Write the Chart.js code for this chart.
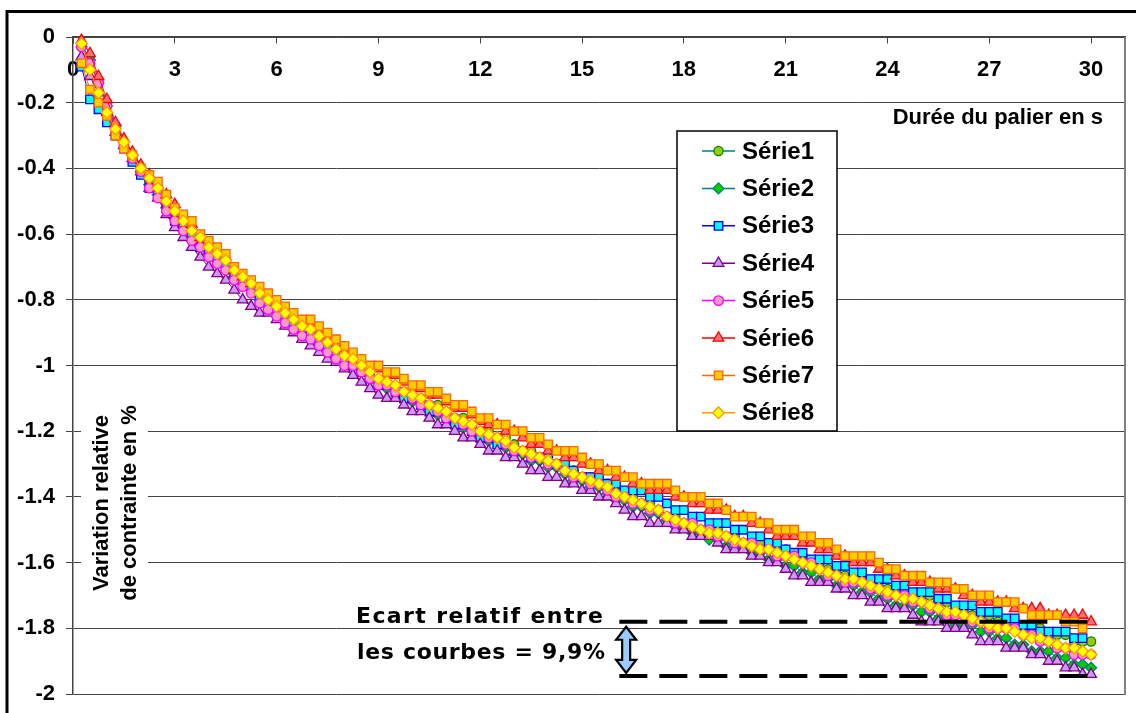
<!DOCTYPE html>
<html>
<head>
<meta charset="utf-8">
<script src="https://cdn.jsdelivr.net/npm/chart.js@4.4.0/dist/chart.umd.min.js"></script>
<style>
html,body{margin:0;padding:0;background:#fff;}
#wrap{position:relative;width:1136px;height:713px;}
canvas{display:block;}
</style>
</head>
<body>
<div id="wrap"><canvas id="c" width="1136" height="713"></canvas></div>
<script>
// ---- data ----
const timeS = [0.25,0.5,0.75,1,1.25,1.5,1.75,2,2.25,2.5,2.75,3,3.25,3.5,3.75,4,4.25,4.5,4.75,5,5.25,5.5,5.75,6,6.25,6.5,6.75,7,7.25,7.5,7.75,8,8.25,8.5,8.75,9,9.25,9.5,9.75,10,10.25,10.5,10.75,11,11.25,11.5,11.75,12,12.25,12.5,12.75,13,13.25,13.5,13.75,14,14.25,14.5,14.75,15,15.25,15.5,15.75,16,16.25,16.5,16.75,17,17.25,17.5,17.75,18,18.25,18.5,18.75,19,19.25,19.5,19.75,20,20.25,20.5,20.75,21,21.25,21.5,21.75,22,22.25,22.5,22.75,23,23.25,23.5,23.75,24,24.25,24.5,24.75,25,25.25,25.5,25.75,26,26.25,26.5,26.75,27,27.25,27.5,27.75,28,28.25,28.5,28.75,29,29.25,29.5,29.75,30];

const serie1 = [-0.03,-0.06,-0.13,-0.20,-0.27,-0.32,-0.36,-0.41,
-0.44,-0.47,-0.51,-0.54,-0.57,-0.60,-0.62,-0.65,-0.67,-0.69,-0.72,-0.74,-0.76,-0.79,-0.81,-0.83,-0.85,-0.87,-0.89,-0.90,-0.92,-0.94,-0.96,-0.98,-0.99,-1.01,-1.03,-1.05,-1.06,-1.07,-1.09,-1.10,
-1.10,-1.12,-1.12,-1.14,-1.16,-1.16,-1.18,-1.20,-1.20,-1.22,-1.22,-1.24,-1.26,-1.26,-1.28,-1.28,-1.30,-1.32,-1.32,-1.34,-1.34,-1.36,-1.36,-1.38,-1.40,-1.40,-1.42,-1.42,-1.44,-1.46,-1.46,-1.48,-1.48,-1.50,-1.50,-1.50,-1.52,-1.52,-1.54,-1.54,
-1.54,-1.56,-1.56,-1.56,-1.58,-1.58,-1.60,-1.60,-1.62,-1.62,-1.64,-1.64,-1.64,-1.66,-1.66,-1.68,
-1.68,-1.68,-1.70,-1.70,-1.70,-1.72,-1.72,-1.74,-1.74,-1.76,-1.76,-1.76,
-1.78,-1.78,-1.78,-1.80,-1.80,-1.80,-1.82,-1.82,-1.82,-1.84,-1.84,-1.84];

const serie2 = [-0.03,-0.07,-0.14,-0.21,-0.27,-0.32,-0.36,-0.41,
-0.45,-0.48,-0.52,-0.55,-0.58,-0.61,-0.63,-0.66,-0.68,-0.70,-0.73,-0.75,-0.77,-0.80,-0.82,-0.84,-0.86,-0.88,-0.90,-0.91,-0.93,-0.95,-0.97,-0.99,-1.00,-1.02,-1.04,-1.06,
-1.07,-1.07,-1.09,-1.11,-1.11,-1.13,-1.15,-1.15,-1.17,-1.19,-1.19,-1.21,
-1.23,-1.23,-1.25,-1.27,-1.27,-1.29,-1.29,-1.31,-1.31,-1.33,-1.35,-1.35,
-1.37,-1.37,-1.39,-1.41,-1.41,-1.43,-1.43,-1.45,-1.45,-1.47,-1.49,-1.49,
-1.51,-1.51,-1.53,-1.53,-1.55,-1.55,-1.55,-1.57,-1.57,-1.59,-1.59,-1.61,
-1.61,-1.63,-1.63,-1.65,-1.65,-1.67,-1.67,-1.67,-1.69,-1.69,-1.71,-1.71,
-1.73,-1.73,-1.73,-1.75,-1.75,-1.77,-1.77,-1.79,-1.79,-1.79,-1.81,-1.81,
-1.83,-1.83,-1.85,-1.85,-1.87,-1.87,-1.87,-1.89,-1.89,-1.91,-1.91,-1.92];

const serie3 = [-0.09,-0.19,-0.22,-0.26,-0.30,-0.34,-0.38,-0.42,
-0.46,-0.48,-0.52,-0.56,-0.58,-0.60,-0.64,-0.66,-0.68,-0.70,-0.72,-0.74,-0.76,-0.80,-0.82,-0.84,-0.86,-0.88,-0.90,-0.90,-0.92,-0.94,-0.96,-0.98,-1.00,-1.02,-1.04,-1.06,
-1.06,-1.08,-1.10,-1.10,-1.12,-1.14,-1.14,-1.16,-1.18,-1.18,-1.20,-1.22,
-1.22,-1.24,-1.24,-1.26,-1.26,-1.28,-1.28,-1.28,-1.30,-1.30,-1.32,-1.34,
-1.34,-1.34,-1.36,-1.36,-1.38,-1.38,-1.38,-1.40,-1.40,-1.42,-1.44,-1.44,
-1.46,-1.46,-1.48,-1.48,-1.48,-1.50,-1.50,-1.52,-1.52,-1.54,-1.54,-1.56,
-1.57,-1.57,-1.59,-1.59,-1.59,-1.61,-1.61,-1.63,-1.63,-1.65,-1.65,-1.65,
-1.67,-1.67,-1.69,-1.69,-1.69,-1.71,-1.71,-1.73,-1.73,-1.73,-1.75,-1.75,
-1.75,-1.77,-1.77,-1.79,-1.79,-1.81,-1.81,-1.81,-1.81,-1.83,-1.83];

const serie4 = [-0.06,-0.12,-0.17,-0.23,-0.29,-0.33,-0.37,-0.41,
-0.46,-0.49,-0.54,-0.58,-0.61,-0.64,-0.67,-0.70,
-0.72,-0.74,-0.77,-0.80,-0.82,-0.84,-0.84,-0.86,-0.88,-0.90,-0.92,-0.94,-0.96,-0.98,-0.99,-1.01,-1.03,-1.05,-1.07,-1.09,
-1.10,-1.10,-1.12,-1.14,-1.14,-1.16,-1.18,-1.18,-1.20,-1.22,-1.22,-1.24,
-1.26,-1.26,-1.28,-1.28,-1.30,-1.32,-1.32,-1.34,-1.34,-1.36,-1.36,-1.38,
-1.38,-1.40,-1.40,-1.42,-1.44,-1.46,-1.46,-1.48,-1.48,-1.48,-1.50,-1.50,
-1.52,-1.52,-1.52,-1.54,-1.56,-1.56,-1.56,-1.58,-1.58,-1.60,-1.60,-1.62,
-1.64,-1.64,-1.66,-1.66,-1.66,-1.68,-1.68,-1.70,-1.70,-1.72,-1.72,-1.74,
-1.74,-1.74,-1.76,-1.78,-1.78,-1.78,-1.80,-1.80,-1.80,-1.82,-1.84,-1.84,
-1.84,-1.86,-1.86,-1.86,-1.88,-1.88,-1.90,-1.90,-1.92,-1.92,-1.94,-1.94];

const serie5 = [-0.03,-0.08,-0.14,-0.21,-0.27,-0.33,-0.37,-0.41,
-0.46,-0.49,-0.53,-0.56,-0.59,-0.62,-0.64,-0.67,-0.69,-0.71,-0.74,-0.76,-0.78,-0.81,-0.83,-0.85,-0.87,-0.89,-0.91,-0.92,-0.94,-0.96,-0.98,-1.00,-1.00,-1.02,-1.04,-1.06,
-1.06,-1.08,-1.08,-1.10,-1.12,-1.12,-1.14,-1.16,-1.16,-1.18,-1.20,-1.20,
-1.22,-1.22,-1.24,-1.26,-1.26,-1.28,-1.28,-1.30,-1.30,-1.32,-1.34,-1.34,
-1.36,-1.36,-1.38,-1.40,-1.40,-1.42,-1.42,-1.44,-1.44,-1.46,-1.48,-1.48,
-1.48,-1.50,-1.50,-1.52,-1.52,-1.54,-1.54,-1.54,-1.56,-1.56,-1.58,-1.58,
-1.58,-1.60,-1.60,-1.62,-1.64,-1.64,-1.66,-1.66,-1.66,-1.68,-1.68,-1.70,
-1.70,-1.70,-1.72,-1.72,-1.74,-1.74,-1.76,-1.76,-1.76,-1.78,-1.78,-1.80,
-1.80,-1.80,-1.80,-1.82,-1.82,-1.84,-1.84,-1.86,-1.86,-1.88,-1.88,-1.88];

const serie6 = [-0.01,-0.05,-0.12,-0.19,-0.26,-0.31,-0.35,-0.39,-0.42,-0.45,-0.48,-0.51,
-0.55,-0.57,-0.61,-0.63,-0.65,-0.67,-0.71,-0.73,-0.75,-0.77,-0.79,-0.81,-0.83,-0.85,-0.87,-0.87,-0.89,-0.91,-0.93,-0.95,-0.97,-0.99,-1.01,-1.01,
-1.03,-1.03,-1.05,-1.07,-1.07,-1.09,-1.09,-1.11,-1.13,-1.13,-1.15,-1.17,
-1.18,-1.18,-1.20,-1.20,-1.22,-1.24,-1.24,-1.26,-1.26,-1.28,-1.28,-1.30,
-1.30,-1.32,-1.32,-1.34,-1.34,-1.36,-1.36,-1.38,-1.38,-1.38,-1.40,-1.40,
-1.42,-1.42,-1.44,-1.44,-1.44,-1.46,-1.46,-1.48,-1.48,-1.50,-1.52,-1.52,
-1.52,-1.54,-1.54,-1.56,-1.56,-1.58,-1.58,-1.60,-1.60,-1.60,-1.62,-1.62,
-1.64,-1.64,-1.66,-1.66,-1.66,-1.68,-1.68,-1.68,-1.70,-1.70,-1.72,-1.72,
-1.72,-1.72,-1.74,-1.74,-1.74,-1.74,-1.76,-1.76,-1.76,-1.76,-1.76,-1.78];

const serie7 = [-0.08,-0.16,-0.20,-0.24,-0.30,-0.34,-0.36,-0.40,-0.42,-0.44,-0.48,-0.52,
-0.54,-0.56,-0.60,-0.62,-0.64,-0.66,-0.70,-0.72,-0.74,-0.76,-0.78,-0.80,-0.82,-0.84,-0.86,-0.86,-0.88,-0.90,-0.92,-0.94,-0.96,-0.98,-1.00,-1.00,
-1.02,-1.02,-1.04,-1.06,-1.06,-1.08,-1.08,-1.10,-1.12,-1.12,-1.14,-1.16,
-1.16,-1.18,-1.18,-1.20,-1.20,-1.22,-1.22,-1.24,-1.26,-1.26,-1.26,-1.28,
-1.30,-1.30,-1.32,-1.32,-1.34,-1.34,-1.36,-1.36,-1.36,-1.36,-1.38,-1.40,
-1.40,-1.40,-1.42,-1.42,-1.44,-1.46,-1.46,-1.46,-1.48,-1.48,-1.50,-1.50,
-1.50,-1.52,-1.52,-1.54,-1.54,-1.56,-1.58,-1.58,-1.58,-1.58,-1.60,-1.62,
-1.62,-1.64,-1.64,-1.64,-1.66,-1.66,-1.66,-1.68,-1.68,-1.70,-1.70,-1.70,
-1.72,-1.72,-1.72,-1.74,-1.76,-1.76,-1.76,-1.76,-1.78,-1.78,-1.80];

const serie8 = [-0.02,-0.10,-0.17,-0.23,-0.28,-0.32,-0.36,-0.40,
-0.43,-0.46,-0.50,-0.53,-0.56,-0.59,-0.61,-0.64,
-0.66,-0.68,-0.71,-0.73,-0.75,-0.78,-0.80,-0.82,
-0.84,-0.86,-0.88,-0.89,-0.91,-0.93,-0.95,-0.97,
-0.98,-1.00,-1.02,-1.04,-1.05,-1.06,-1.08,-1.09,
-1.10,-1.12,-1.13,-1.14,-1.16,-1.17,-1.18,-1.20,
-1.21,-1.22,-1.23,-1.25,-1.26,-1.27,-1.28,-1.29,
-1.30,-1.32,-1.33,-1.34,-1.35,-1.36,-1.37,-1.39,
-1.40,-1.41,-1.42,-1.43,-1.44,-1.46,-1.47,-1.48,
-1.49,-1.50,-1.51,-1.51,-1.52,-1.53,-1.54,-1.55,
-1.56,-1.56,-1.57,-1.58,-1.59,-1.60,-1.61,-1.62,
-1.63,-1.64,-1.65,-1.65,-1.66,-1.67,-1.68,-1.69,
-1.70,-1.71,-1.71,-1.72,-1.73,-1.74,-1.75,-1.75,
-1.76,-1.77,-1.78,-1.79,-1.80,-1.80,-1.81,-1.82,
-1.83,-1.83,-1.84,-1.85,-1.86,-1.86,-1.87,-1.88];

const seriesNames = ['Série1','Série2','Série3','Série4','Série5','Série6','Série7','Série8'];
const xTicks = [0,3,6,9,12,15,18,21,24,27,30];
const xTickLabels = ['0','3','6','9','12','15','18','21','24','27','30'];
const yTicks = [-2,-1.8,-1.6,-1.4,-1.2,-1,-0.8,-0.6,-0.4,-0.2,0];
const yTickLabels = ['-2','-1.8','-1.6','-1.4','-1.2','-1','-0.8','-0.6','-0.4','-0.2','0'];
const xTitle = 'Durée du palier en s';
const yTitleLines = ['Variation relative','de contrainte en %'];
const gapLevels = [-1.78, -1.945];   // the two dashed levels
const gapSpan = [16.1, 30];          // time span of dashed lines
const gapArrowAt = 16.3;
const noteLines = ['Ecart relatif entre', 'les courbes = 9,9%'];

// ---- styles ----
const FONT = "'Liberation Sans', Arial, Helvetica, sans-serif";
const styles = [
  {shape:'circle',   r:4.6, line:'#008080', fill:'#99CC00', edge:'#008000'},
  {shape:'rectRot',  r:5.5, line:'#008080', fill:'#00CC00', edge:'#008080'},
  {shape:'rect',     r:6.0, line:'#0000FF', fill:'#00FFFF', edge:'#0000FF'},
  {shape:'triangle', r:6.2, line:'#800080', fill:'#CC99FF', edge:'#800080'},
  {shape:'circle',   r:4.8, line:'#FF00FF', fill:'#FF99CC', edge:'#FF00FF'},
  {shape:'triangle', r:6.2, line:'#FF0000', fill:'#FF7070', edge:'#FF0000'},
  {shape:'rect',     r:6.0, line:'#FF6600', fill:'#FFCC00', edge:'#FF6600'},
  {shape:'rectRot',  r:5.8, line:'#FF9900', fill:'#FFFF00', edge:'#FF9900'}
];
const seriesValues = [serie1,serie2,serie3,serie4,serie5,serie6,serie7,serie8];

Chart.defaults.font.family = FONT;
Chart.defaults.font.weight = 'bold';
Chart.defaults.font.size = 22;
Chart.defaults.color = '#000';

const datasets = seriesValues.map((vals, i) => ({
  label: seriesNames[i],
  data: vals,
  borderColor: styles[i].line,
  borderWidth: 1,
  pointStyle: styles[i].shape,
  pointRadius: styles[i].r,
  pointBackgroundColor: styles[i].fill,
  pointBorderColor: styles[i].edge,
  pointBorderWidth: 1.3,
  fill: false,
  tension: 0,
  order: 7 - i,
  clip: false
}));
gapLevels.forEach((lv, j) => {
  datasets.push({
    label: 'gap' + j,
    data: [{x: gapSpan[0], y: lv}, {x: gapSpan[1], y: lv}],
    borderColor: '#000',
    borderWidth: 4,
    borderDash: [28, 12],
    pointRadius: 0,
    fill: false,
    order: -1,
    clip: false
  });
});

function drawMarker(ctx, st, x, y) {
  const r = st.r;
  ctx.beginPath();
  if (st.shape === 'circle') {
    ctx.arc(x, y, r, 0, Math.PI * 2);
  } else if (st.shape === 'rect') {
    const s = r * Math.SQRT1_2;
    ctx.rect(x - s, y - s, 2 * s, 2 * s);
  } else if (st.shape === 'rectRot') {
    ctx.moveTo(x, y - r); ctx.lineTo(x + r, y); ctx.lineTo(x, y + r); ctx.lineTo(x - r, y); ctx.closePath();
  } else {
    ctx.moveTo(x, y - r);
    ctx.lineTo(x + r * 0.866, y + r * 0.5);
    ctx.lineTo(x - r * 0.866, y + r * 0.5);
    ctx.closePath();
  }
  ctx.fillStyle = st.fill; ctx.fill();
  ctx.lineWidth = 1.3; ctx.strokeStyle = st.edge; ctx.stroke();
}

function fitText(ctx, text, x, y, width) {
  ctx.letterSpacing = '0px';
  const w = ctx.measureText(text).width;
  const extra = (width - w) / Math.max(1, text.length - 1);
  ctx.letterSpacing = extra.toFixed(2) + 'px';
  ctx.fillText(text, x, y);
  ctx.letterSpacing = '0px';
}

const overlay = {
  id: 'overlay',
  afterDraw(chart) {
    const ctx = chart.ctx, ca = chart.chartArea;
    const xs = chart.scales.x, ys = chart.scales.y;
    ctx.save();
    // plot area right border
    ctx.strokeStyle = '#808080'; ctx.lineWidth = 2;
    ctx.beginPath(); ctx.moveTo(ca.right, ca.top); ctx.lineTo(ca.right, ca.bottom + 1); ctx.stroke();
    // outer frame (top and left)
    ctx.strokeStyle = '#000'; ctx.lineWidth = 3;
    ctx.beginPath(); ctx.moveTo(7, 713); ctx.lineTo(7, 11.5); ctx.lineTo(1136, 11.5); ctx.stroke();

    // y axis title with white background
    ctx.fillStyle = '#fff';
    ctx.fillRect(81, 400, 67, 206);
    ctx.fillStyle = '#000';
    ctx.font = 'bold 22px ' + FONT;
    ctx.textAlign = 'center'; ctx.textBaseline = 'alphabetic';
    const yc = 503;
    [108, 136].forEach((bx, i) => {
      ctx.save(); ctx.translate(bx, yc); ctx.rotate(-Math.PI / 2);
      ctx.fillText(yTitleLines[i], 0, 0);
      ctx.restore();
    });

    // x axis title
    ctx.textAlign = 'right';
    ctx.fillText(xTitle, 1103, 124);

    // legend box
    const lx = 677, ly = 131, lw = 160, lh = 300;
    ctx.fillStyle = '#fff'; ctx.fillRect(lx, ly, lw, lh);
    ctx.strokeStyle = '#000'; ctx.lineWidth = 1.5; ctx.strokeRect(lx, ly, lw, lh);
    ctx.font = 'bold 24px ' + FONT;
    ctx.textAlign = 'left'; ctx.textBaseline = 'middle';
    seriesNames.forEach((name, i) => {
      const y = 151 + i * 37.4;
      ctx.strokeStyle = styles[i].line; ctx.lineWidth = 1.5;
      ctx.beginPath(); ctx.moveTo(702, y); ctx.lineTo(735, y); ctx.stroke();
      drawMarker(ctx, styles[i], 718.5, y);
      ctx.fillStyle = '#000';
      ctx.fillText(name, 742, y + 1);
    });

    // double arrow between the dashed levels
    const ax = xs.getPixelForValue(gapArrowAt);
    const yT = ys.getPixelForValue(gapLevels[0]) + 5;
    const yB = ys.getPixelForValue(gapLevels[1]) - 3;
    const hw = 10, sw = 4, hh = 13;
    ctx.beginPath();
    ctx.moveTo(ax, yT);
    ctx.lineTo(ax + hw, yT + hh); ctx.lineTo(ax + sw, yT + hh);
    ctx.lineTo(ax + sw, yB - hh); ctx.lineTo(ax + hw, yB - hh);
    ctx.lineTo(ax, yB);
    ctx.lineTo(ax - hw, yB - hh); ctx.lineTo(ax - sw, yB - hh);
    ctx.lineTo(ax - sw, yT + hh); ctx.lineTo(ax - hw, yT + hh);
    ctx.closePath();
    ctx.fillStyle = '#99CCFF'; ctx.fill();
    ctx.strokeStyle = '#000'; ctx.lineWidth = 2.2; ctx.lineJoin = 'miter'; ctx.stroke();

    // annotation text
    ctx.fillStyle = '#000';
    ctx.font = 'bold 22px "DejaVu Sans", sans-serif';
    ctx.textAlign = 'left'; ctx.textBaseline = 'alphabetic';
    fitText(ctx, noteLines[0], 356, 623, 247);
    fitText(ctx, noteLines[1], 357, 659, 248);
    ctx.restore();
  }
};

new Chart(document.getElementById('c'), {
  type: 'line',
  data: { labels: timeS, datasets: datasets },
  options: {
    responsive: false,
    devicePixelRatio: 1,
    animation: false,
    layout: { padding: { left: 0, right: 11, top: 37, bottom: 19 } },
    plugins: { legend: { display: false }, tooltip: { enabled: false }, title: { display: false } },
    scales: {
      x: {
        type: 'linear', min: 0, max: 31,
        position: { y: 0 },
        afterBuildTicks: s => { s.ticks = xTicks.map(v => ({ value: v })); },
        afterFit: s => { s.height = 0; s.paddingLeft = 0; s.paddingRight = 0; },
        grid: { drawOnChartArea: false, drawTicks: true, tickLength: 6, color: '#444', lineWidth: 1 },
        border: { display: true, color: '#444', width: 1.5 },
        ticks: { padding: 14, maxRotation: 0, autoSkip: false, color: '#000',
                 font: { size: 22, weight: 'bold', family: FONT },
                 callback: (v, i) => xTickLabels[i] }
      },
      y: {
        type: 'linear', min: -2, max: 0, position: 'left',
        afterBuildTicks: s => { s.ticks = yTicks.map(v => ({ value: v })); },
        afterFit: s => { s.width = 73; s.paddingTop = 0; s.paddingBottom = 0; },
        grid: { color: '#444', lineWidth: 1, tickLength: 7, drawTicks: true },
        border: { display: true, color: '#444', width: 1.5 },
        ticks: { padding: 11, color: '#000', font: { size: 22, weight: 'bold', family: FONT },
                 callback: (v, i) => yTickLabels[i] }
      }
    }
  },
  plugins: [overlay]
});
</script>
</body>
</html>
